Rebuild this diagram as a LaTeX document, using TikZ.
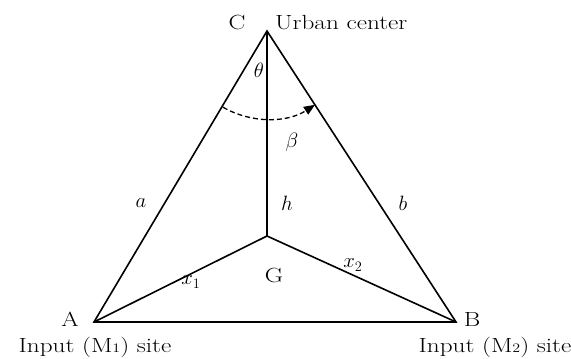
\documentclass[tikz,border=0pt]{standalone}
\usepackage{fontspec}
\newfontfamily\widefont{Latin Modern Roman}[FakeStretch=1.23]
\usetikzlibrary{arrows.meta,calc}
\begin{document}
\begin{tikzpicture}[x=1pt,y=-1pt,
  edge/.style={line width=1.6pt},
  lbl/.style={font=\widefont\fontsize{20.5}{22}\selectfont, inner sep=0pt},
  mlbl/.style={font=\fontsize{20.74}{22}\selectfont, inner sep=0pt}]
\useasboundingbox (0,0) rectangle (571,359);
\coordinate (C) at (267,31);
\coordinate (A) at (94,322);
\coordinate (B) at (456,322);
\coordinate (G) at (267,236);
\draw[edge] (A) -- (B) -- (C) -- cycle;
\draw[edge] (C) -- (G);
\draw[edge] (A) -- (G) -- (B);
\draw[line width=1.3pt, dash pattern=on 5pt off 3pt, -{Triangle[length=11pt,width=9pt]}]
  ($(C)+(120:88)$) arc[start angle=120, end angle=57, radius=88];
\node[lbl, anchor=base] (lC) at (237,29) {C};
\node[lbl, anchor=base west] (lU) at (275,29) {Urban center};
\node[mlbl] (lth) at (259,70) {$\theta$};
\node[mlbl] (lbe) at (292,142) {$\beta$};
\node[mlbl] (la) at (141,203) {$a$};
\node[mlbl] (lh) at (287,203) {$h$};
\node[mlbl] (lb) at (403,203) {$b$};
\node[mlbl] (lx1) at (191,282) {$x_1$};
\node[lbl] (lG) at (274,275) {G};
\node[mlbl] (lx2) at (353,265) {$x_2$};
\node[lbl, anchor=base] (lA) at (70,326) {A};
\node[lbl, anchor=base] (lB) at (472,326) {B};
\node[lbl, anchor=base] (lI1) at (95,352) {Input (M{\fontsize{13}{13}\selectfont 1}) site};
\node[lbl, anchor=base] (lI2) at (495,352) {Input (M{\fontsize{13}{13}\selectfont 2}) site};
\end{tikzpicture}
\end{document}
